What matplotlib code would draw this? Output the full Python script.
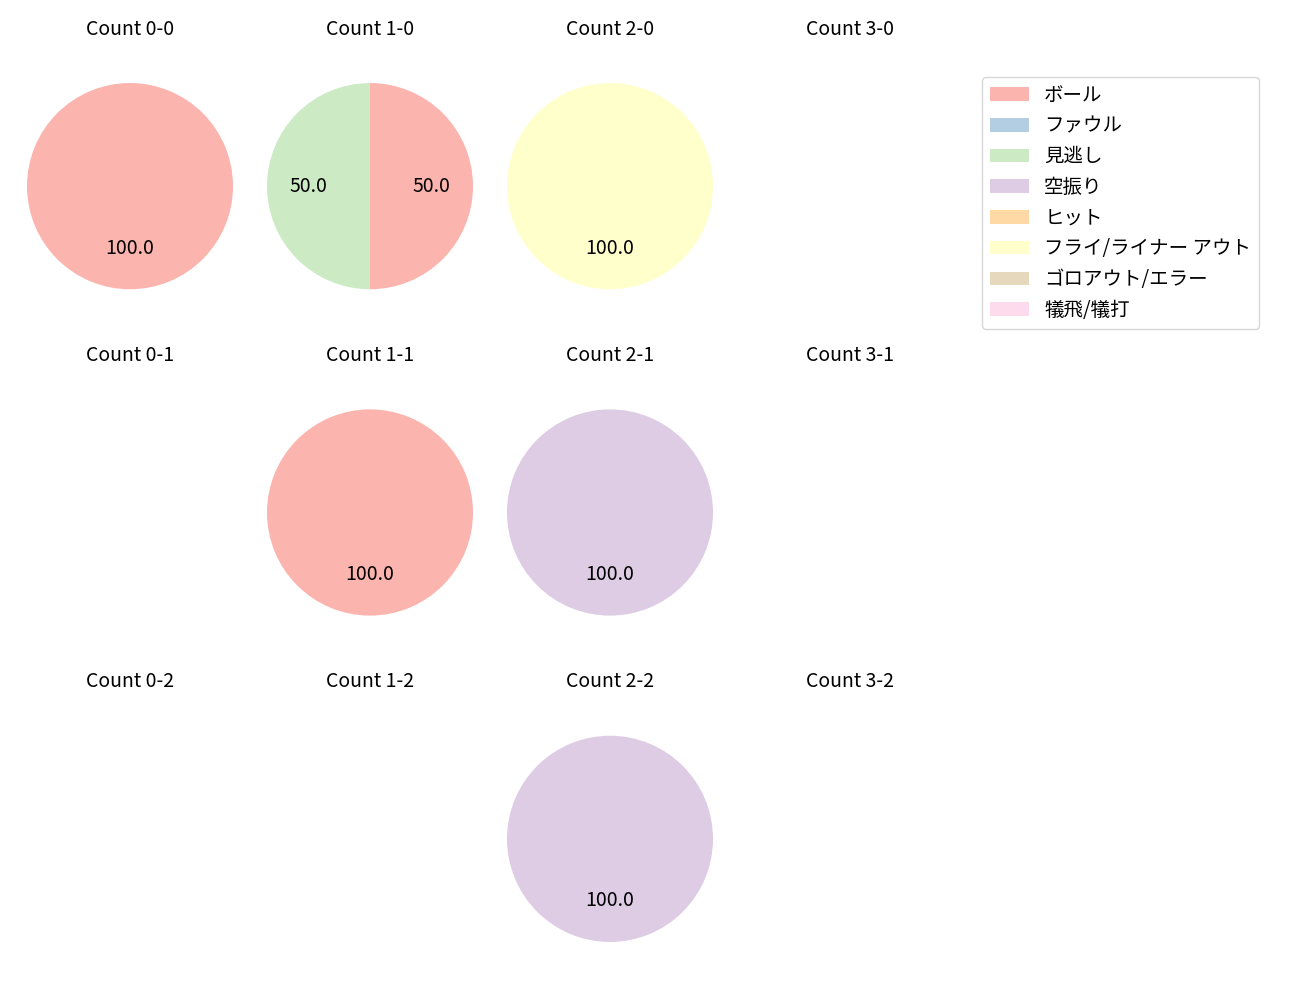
import matplotlib.pyplot as plt
from matplotlib.patches import Patch

plt.rcParams['font.family'] = ['Noto Sans CJK JP', 'DejaVu Sans']

# result categories (legend order) and Pastel1 colours
categories = ['ボール', 'ファウル', '見逃し', '空振り', 'ヒット',
              'フライ/ライナー アウト', 'ゴロアウト/エラー', '犠飛/犠打']
colors = ['#fbb4ae', '#b3cde3', '#ccebc5', '#decbe4', '#fed9a6',
          '#ffffcc', '#e5d8bd', '#fddaec']

balls = [0, 1, 2, 3]
strikes = [0, 1, 2]

# counts of each outcome per ball-strike count (same order as categories)
counts = {
    (0, 0): [1, 0, 0, 0, 0, 0, 0, 0],
    (1, 0): [1, 0, 1, 0, 0, 0, 0, 0],
    (2, 0): [0, 0, 0, 0, 0, 1, 0, 0],
    (3, 0): [0, 0, 0, 0, 0, 0, 0, 0],
    (0, 1): [0, 0, 0, 0, 0, 0, 0, 0],
    (1, 1): [1, 0, 0, 0, 0, 0, 0, 0],
    (2, 1): [0, 0, 0, 1, 0, 0, 0, 0],
    (3, 1): [0, 0, 0, 0, 0, 0, 0, 0],
    (0, 2): [0, 0, 0, 0, 0, 0, 0, 0],
    (1, 2): [0, 0, 0, 0, 0, 0, 0, 0],
    (2, 2): [0, 0, 0, 1, 0, 0, 0, 0],
    (3, 2): [0, 0, 0, 0, 0, 0, 0, 0],
}

fig, axes = plt.subplots(3, 4, figsize=(13, 10), dpi=100)
fig.subplots_adjust(left=15 / 1300, right=965 / 1300, top=1 - 43 / 1000,
                    bottom=18 / 1000, wspace=10 / 230, hspace=40 / 286)

for s in strikes:
    for b in balls:
        ax = axes[s][b]
        ax.set_title(f'Count {b}-{s}', fontsize=14)
        vals = counts[(b, s)]
        if sum(vals) > 0:
            used = [(v, c) for v, c in zip(vals, colors) if v > 0]
            ax.pie([u[0] for u in used], colors=[u[1] for u in used],
                   autopct='%.1f', startangle=90, counterclock=False,
                   textprops={'fontsize': 14})
        ax.set_aspect('auto')
        ax.set_xlim(-115 / 103, 115 / 103)
        ax.set_ylim(-143 / 103, 143 / 103)
        ax.axis('off')

handles = [Patch(facecolor=c, label=l) for c, l in zip(colors, categories)]
fig.legend(handles=handles, loc='upper left', bbox_to_anchor=(982 / 1300, 1 - 77 / 1000),
           borderaxespad=0, fontsize=14)

fig.savefig('out.png')
